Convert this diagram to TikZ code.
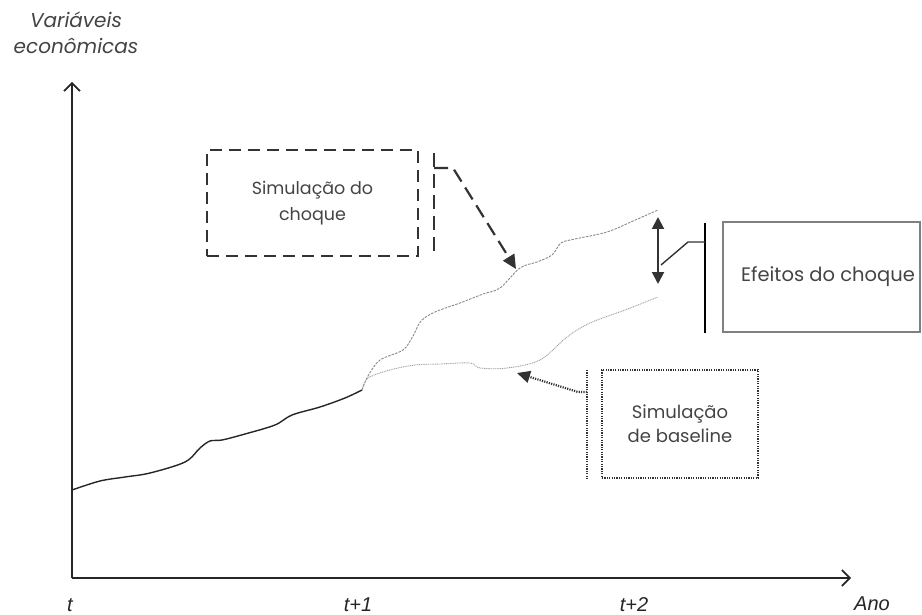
\documentclass[tikz,border=0pt]{standalone}
\usepackage{fontspec}
\setmainfont{Poppins}
\newfontfamily\axisfont{Liberation Sans}
\usetikzlibrary{arrows.meta}
\definecolor{boxgray}{HTML}{333333}
\definecolor{curvegray}{HTML}{8A8A8A}
\definecolor{txtgray}{HTML}{444444}
\tikzset{
  dashbox/.style={draw=boxgray, line width=2.4pt, dash pattern=on 12pt off 7pt, minimum width=211pt, minimum height=106pt, align=center, font=\fontsize{17.5}{26}\selectfont, text=txtgray},
  solidbox/.style={draw=gray, line width=2pt, minimum width=197pt, minimum height=110pt, align=center, font=\fontsize{19.5}{24}\selectfont, text=txtgray},
  dotbox/.style={draw=boxgray, line width=2.2pt, dash pattern=on 1.2pt off 1.2pt, minimum width=156pt, minimum height=108pt, align=center, font=\fontsize{18}{24}\selectfont, text=txtgray},
  axis/.style={line width=1.6pt, draw=black!85, -{Straight Barb[length=8pt,width=16pt,line width=1.6pt]}},
  axislab/.style={font=\axisfont\itshape\fontsize{20}{22}\selectfont, text=black!85},
  shock/.style={draw=curvegray, line width=0.9pt, dash pattern=on 2.5pt off 1.2pt},
  base/.style={draw=curvegray!80, line width=0.9pt, dash pattern=on 1pt off 0.8pt},
  hist/.style={draw=black!85, line width=1.4pt},
  filltip/.style={-{Triangle[length=14pt,width=13pt]}},
}
\begin{document}
\begin{tikzpicture}[x=1pt,y=-1pt]
\useasboundingbox (0,0) rectangle (922,615);
% axes
\coordinate (O) at (72,578);
\coordinate (ytop) at (72,82);
\coordinate (xend) at (851,578);
\draw[axis] (O) -- (ytop);
\draw[axis] (O) -- (xend);
\node[axislab] (lt) at (70,605) {t};
\node[axislab] (lt1) at (358,605) {t+1};
\node[axislab] (lt2) at (634,605) {t+2};
\node[axislab] (lano) at (872,604) {Ano};
\node[font=\itshape\fontsize{20}{26}\selectfont, text=txtgray, align=center] (ylab) at (76,33) {Variáveis\\econômicas};
% historical curve
\draw[hist] plot[smooth, tension=0.55] coordinates {(72,490) (100,481) (125,477) (150,473) (185,462) (200,448) (210,441) (222,440) (245,434) (275,425) (292,415) (320,407) (345,398) (362,390)};
% shock curve
\draw[shock] plot[smooth, tension=0.55] coordinates {(362,390) (368,376) (380,360) (403,350) (413,336) (421,321) (435,312) (460,303) (483,294) (500,288) (520,268) (537,262) (552,255) (561,243) (575,239) (607,232) (633,221) (658,210)};
% baseline curve
\draw[base] plot[smooth, tension=0.55] coordinates {(362,390) (368,378) (390,370) (415,365) (440,364) (470,363) (480,368) (507,368) (540,360) (567,337) (590,323) (625,310) (658,297)};
% shock box
\node[dashbox] (choque) at (312.5,203) {Simulação do\\choque};
\coordinate (b1t) at (434,153);
\coordinate (b1b) at (434,256);
\coordinate (b1m) at (434,168);
\coordinate (b1k) at (453,168);
\coordinate (b1tip) at (516,269);
\draw[boxgray, line width=2.2pt, dash pattern=on 14pt off 7pt] (b1t) -- (b1b);
\draw[boxgray, line width=2.2pt, dash pattern=on 14pt off 7pt, filltip] (b1m) -- (b1k) -- (b1tip);
% effects
\node[solidbox] (efeitos) at (821.5,277) {};
\node[font=\fontsize{19.5}{24}\selectfont, text=txtgray] (eftxt) at (828,277) {Efeitos do choque};
\coordinate (datop) at (658,217);
\coordinate (dabot) at (658,284);
\draw[boxgray, line width=2pt, {Triangle[length=12pt,width=12pt]}-{Triangle[length=12pt,width=12pt]}] (datop) -- (dabot);
\coordinate (b2t) at (705,223);
\coordinate (b2b) at (705,333);
\coordinate (b2m) at (705,242);
\coordinate (b2k) at (688,242);
\coordinate (b2e) at (661,265);
\draw[black, line width=1.4pt] (b2t) -- (b2b);
\draw[boxgray, line width=1.4pt] (b2m) -- (b2k) -- (b2e);
% baseline box
\node[dotbox] (baseline) at (680,424) {Simulação\\de baseline};
\coordinate (b3t) at (587,370);
\coordinate (b3b) at (587,479);
\coordinate (b3m) at (587,392);
\coordinate (b3k) at (578,392);
\coordinate (b3tip) at (517,373);
\draw[boxgray, line width=2.2pt, dash pattern=on 1.2pt off 1.2pt] (b3t) -- (b3b);
\draw[boxgray, line width=2.2pt, dash pattern=on 1.2pt off 1.2pt, -{Triangle[length=13pt,width=12pt,sep=0pt]}] (b3m) -- (b3k) -- (b3tip);
\end{tikzpicture}
\end{document}
